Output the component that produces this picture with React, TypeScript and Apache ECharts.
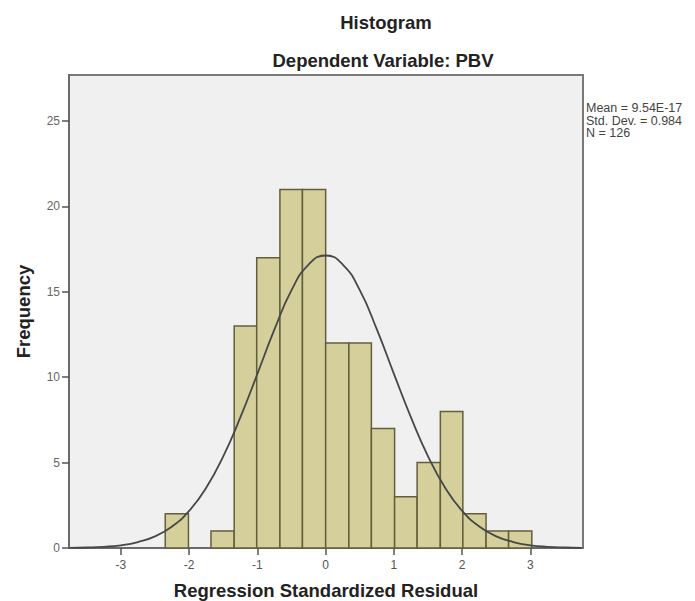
import React, { useEffect, useRef } from "react";
import * as echarts from "echarts";

// Histogram bins
const binLo = [-2.35, -2.01, -1.68, -1.34, -1.01, -0.67, -0.34, 0.0, 0.34, 0.67, 1.01, 1.34, 1.68, 2.01, 2.35, 2.68];
const binHi = [-2.01, -1.68, -1.34, -1.01, -0.67, -0.34, 0.0, 0.34, 0.67, 1.01, 1.34, 1.68, 2.01, 2.35, 2.68, 3.02];
const counts = [2, 0, 1, 13, 17, 21, 21, 12, 12, 7, 3, 5, 8, 2, 1, 1];

// Normal curve points
const curveX = [-3.75, -3.5, -3.25, -3.0, -2.75, -2.5, -2.25, -2.0, -1.75, -1.5, -1.25, -1.0, -0.75, -0.5, -0.25, 0, 0.25, 0.5, 0.75, 1.0, 1.25, 1.5, 1.75, 2.0, 2.25, 2.5, 2.75, 3.0, 3.25, 3.5, 3.75];
const curveY = [0.01, 0.03, 0.07, 0.16, 0.35, 0.68, 1.26, 2.17, 3.53, 5.37, 7.65, 10.2, 12.8, 15.1, 16.6, 17.13, 16.6, 15.1, 12.8, 10.2, 7.65, 5.37, 3.53, 2.17, 1.26, 0.68, 0.35, 0.16, 0.07, 0.03, 0.01];

const xTicks = [-3, -2, -1, 0, 1, 2, 3];
const yTicks = [0, 5, 10, 15, 20, 25];

const statsLines = ["Mean = 9.54E-17", "Std. Dev. = 0.984", "N = 126"];

const FONT = "'Liberation Sans', Arial, sans-serif";

export default function App() {
  const ref = useRef<HTMLDivElement>(null);
  useEffect(() => {
    if (!ref.current) return;
    const chart = echarts.init(ref.current, undefined, { renderer: "svg" });
    const barData = binLo.map((lo, i) => [lo, binHi[i], counts[i]]);
    const lineData = curveX.map((x, i) => [x, curveY[i]]);
    chart.setOption({
      animation: false,
      backgroundColor: "#ffffff",
      textStyle: { fontFamily: FONT },
      grid: {
        left: 69,
        right: 112,
        top: 75,
        bottom: 53,
        outerBoundsMode: "none",
        containLabel: false,
        show: true,
        backgroundColor: "#f0f0f0",
        borderColor: "#7a7a7a",
        borderWidth: 2,
      },
      xAxis: {
        type: "value",
        min: -3.76,
        max: 3.77,
        name: "Regression Standardized Residual",
        nameLocation: "middle",
        nameGap: 33,
        nameTextStyle: { fontSize: 18.5, fontWeight: "bold", color: "#222", fontFamily: FONT },
        axisLine: { show: true, onZero: false, lineStyle: { color: "#6a6a6a", width: 2 } },
        axisTick: { show: true, length: 7, customValues: xTicks, lineStyle: { color: "#555", width: 1.5 } },
        axisLabel: {
          customValues: xTicks,
          margin: 11,
          fontSize: 12,
          color: "#555",
          fontFamily: FONT,
          formatter: (v: number) => String(v),
        },
        splitLine: { show: false },
      },
      yAxis: {
        type: "value",
        min: 0,
        max: 27.7,
        name: "Frequency",
        nameLocation: "middle",
        nameRotate: 90,
        nameGap: 36,
        nameTextStyle: { fontSize: 18.5, fontWeight: "bold", color: "#222", fontFamily: FONT },
        axisLine: { show: true, onZero: false, lineStyle: { color: "#6a6a6a", width: 2 } },
        axisTick: { show: true, length: 7, customValues: yTicks, lineStyle: { color: "#555", width: 1.5 } },
        axisLabel: {
          customValues: yTicks,
          margin: 9,
          fontSize: 12,
          color: "#666",
          fontFamily: FONT,
        },
        splitLine: { show: false },
      },
      graphic: [
        {
          type: "text",
          x: 386,
          y: 22,
          style: {
            text: "Histogram",
            fontSize: 18.5,
            fontWeight: "bold",
            fontFamily: FONT,
            fill: "#222",
            align: "center",
            verticalAlign: "middle",
          },
        },
        {
          type: "text",
          x: 383,
          y: 60,
          style: {
            text: "Dependent Variable: PBV",
            fontSize: 18.5,
            fontWeight: "bold",
            fontFamily: FONT,
            fill: "#222",
            align: "center",
            verticalAlign: "middle",
          },
        },
        {
          type: "text",
          x: 586,
          y: 102,
          style: {
            text: statsLines.join("\n"),
            fontSize: 12.5,
            lineHeight: 12.5,
            fontFamily: FONT,
            fill: "#444",
            align: "left",
            verticalAlign: "top",
          },
        },
      ],
      series: [
        {
          type: "custom",
          data: barData,
          encode: { x: [0, 1], y: 2 },
          z: 2,
          renderItem: (params: any, api: any) => {
            const lo = api.value(0);
            const hi = api.value(1);
            const c = api.value(2);
            if (!c) return null;
            const p0 = api.coord([lo, 0]);
            const p1 = api.coord([hi, c]);
            return {
              type: "rect",
              shape: { x: p0[0], y: p1[1], width: p1[0] - p0[0], height: p0[1] - p1[1] },
              style: { fill: "#d5d09b", stroke: "#625e3c", lineWidth: 1.5 },
            };
          },
        },
        {
          type: "line",
          data: lineData,
          smooth: true,
          showSymbol: false,
          z: 3,
          lineStyle: { color: "#474747", width: 1.8 },
        },
      ],
    });
    return () => chart.dispose();
  }, []);
  return (
    <div
      ref={ref}
      style={{ position: "fixed", left: 0, top: 0, width: 695, height: 601 }}
    />
  );
}
